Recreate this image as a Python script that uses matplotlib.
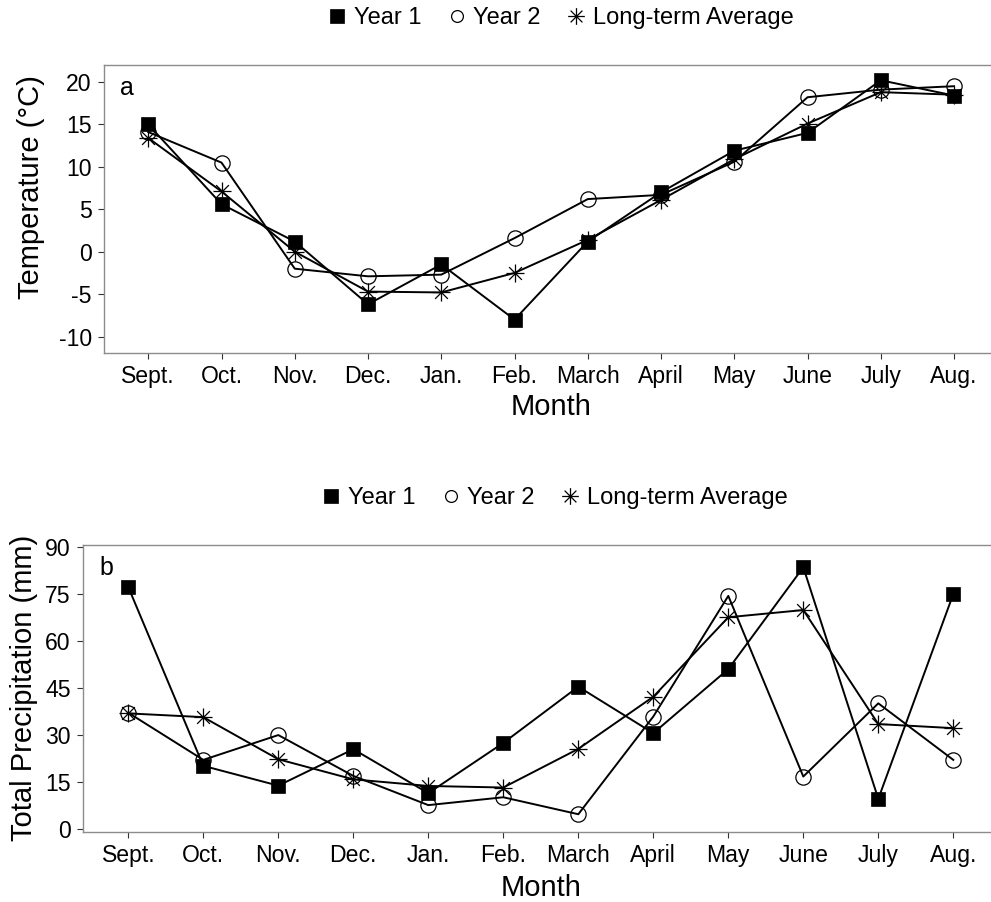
import matplotlib
matplotlib.use("Agg")
import matplotlib.pyplot as plt
from matplotlib.path import Path
from matplotlib.lines import Line2D

# ---- data -------------------------------------------------------------
months = ["Sept.", "Oct.", "Nov.", "Dec.", "Jan.", "Feb.",
          "March", "April", "May", "June", "July", "Aug."]

temp_year1 = [15.0, 5.6, 1.2, -6.2, -1.5, -8.0, 1.2, 7.0, 11.9, 14.0, 20.2, 18.4]
temp_year2 = [14.1, 10.5, -2.0, -2.9, -2.7, 1.6, 6.2, 6.7, 10.6, 18.2, 19.1, 19.5]
temp_avg = [13.4, 7.1, 0.0, -4.7, -4.8, -2.5, 1.4, 6.1, 10.9, 15.1, 18.8, 18.5]

precip_year1 = [77.1, 20.2, 13.9, 25.5, 11.5, 27.5, 45.4, 30.6, 51.0, 83.4, 9.7, 74.9]
precip_year2 = [37.1, 22.1, 30.0, 17.0, 7.7, 10.2, 4.8, 35.9, 74.3, 16.8, 40.1, 22.1]
precip_avg = [36.9, 35.7, 22.3, 15.9, 13.8, 13.3, 25.6, 42.2, 67.5, 69.8, 33.5, 32.2]

series_labels = ["Year 1", "Year 2", "Long-term Average"]
temp_ticks = [-10, -5, 0, 5, 10, 15, 20]
precip_ticks = [0, 15, 30, 45, 60, 75, 90]

# ---- style ------------------------------------------------------------
plt.rcParams["font.family"] = ["Liberation Sans", "DejaVu Sans"]
plt.rcParams["axes.unicode_minus"] = False

# eight-armed asterisk (plus and cross overlaid)
d = 0.7071
ASTERISK = Path(
    [(0, -1), (0, 1), (-1, 0), (1, 0),
     (-d, -d), (d, d), (-d, d), (d, -d)],
    [Path.MOVETO, Path.LINETO] * 4,
)

styles = [
    dict(marker="s", markersize=10, markerfacecolor="black",
         markeredgecolor="black", markeredgewidth=0.5),
    dict(marker="o", markersize=11, markerfacecolor="none",
         markeredgecolor="black", markeredgewidth=0.9),
    dict(marker=ASTERISK, markersize=13, markerfacecolor="none",
         markeredgecolor="black", markeredgewidth=0.9),
]

W, H = 991, 902
fig = plt.figure(figsize=(W / 100, H / 100), dpi=100)


def px_axes(left, top, right, bottom):
    return fig.add_axes([left / W, 1 - bottom / H, (right - left) / W, (bottom - top) / H])


def style_axes(ax, ticks, ylim, ylabel, panel, ylab_xy, xlab_y):
    x = range(1, len(months) + 1)
    ax.set_xlim(0.4, 12.6)
    ax.set_ylim(*ylim)
    ax.set_xticks(list(x))
    ax.set_xticklabels(months)
    ax.set_yticks(ticks)
    ax.set_yticklabels([str(t) for t in ticks])
    ax.tick_params(axis="both", direction="out", length=4.5, width=0.8,
                   color="#333333", labelsize=16.6, labelcolor="black", pad=4.5)
    for s in ax.spines.values():
        s.set_color("#8c8c8c")
        s.set_linewidth(1.0)
    ax.set_xlabel("Month", fontsize=21)
    ax.set_ylabel(ylabel, fontsize=21)
    ax.xaxis.set_label_coords(0.5, xlab_y)
    ax.yaxis.set_label_coords(*ylab_xy)
    ax.annotate(panel, xy=(0, 1), xycoords="axes fraction",
                xytext=(11.5, -21.5), textcoords="offset points",
                fontsize=18, ha="left", va="baseline")


def draw(ax, series):
    x = list(range(1, len(months) + 1))
    for vals, st in zip(series, styles):
        ax.plot(x, vals, color="black", linewidth=1.4, **st)


def legend_at(xc, yc):
    handles = [Line2D([], [], linestyle="none", **st) for st in styles]
    handles[1].set_markersize(8.5)
    handles[2].set_markersize(12)
    fig.legend(handles, series_labels, loc="center",
               bbox_to_anchor=(xc / W, 1 - yc / H), ncol=3, frameon=False,
               fontsize=17, handlelength=0.6, handletextpad=0.4,
               columnspacing=1.2, borderaxespad=0, borderpad=0)


# ---- panel a: temperature --------------------------------------------
ax1 = px_axes(104.3, 65, 998, 352.7)
draw(ax1, [temp_year1, temp_year2, temp_avg])
style_axes(ax1, temp_ticks, (-11.9, 22.0), "Temperature (°C)", "a",
           (-0.066, 0.575), -0.14)
legend_at(562, 18)

# ---- panel b: precipitation ------------------------------------------
ax2 = px_axes(83.3, 545, 998.3, 831.7)
draw(ax2, [precip_year1, precip_year2, precip_avg])
style_axes(ax2, precip_ticks, (-0.76, 90.5), "Total Precipitation (mm)", "b",
           (-0.049, 0.5), -0.147)
legend_at(556, 498)

fig.savefig("out.png", dpi=100, facecolor="white")
